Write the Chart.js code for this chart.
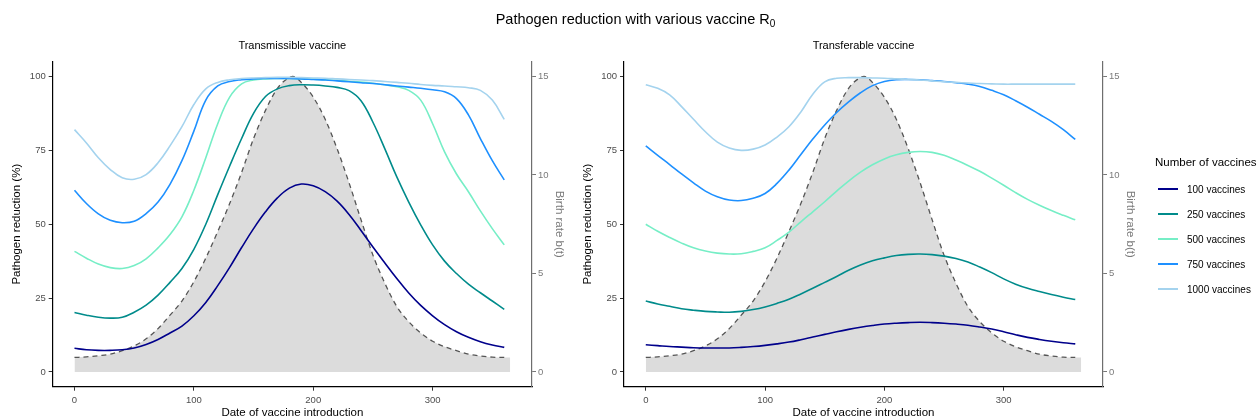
<!DOCTYPE html>
<html>
<head>
<meta charset="utf-8">
<script src="https://cdn.jsdelivr.net/npm/chart.js@4/dist/chart.umd.min.js"></script>
<style>
  body { margin: 0; background: #fff; font-family: "Liberation Sans", Arial, sans-serif; }
  #wrap { position: relative; width: 1260px; height: 420px; overflow: hidden; }
  canvas { position: absolute; top: 0; }
  .lbl { position: absolute; transform: translate(-50%, -50%); white-space: nowrap; color: #000; }
  #legend { position: absolute; left: 1155px; top: 156px; font-size: 11.5px; }
  .item { position: absolute; left: 3px; font-size: 10px; white-space: nowrap; }
  .key { position: absolute; left: 0; top: -1px; width: 20px; height: 2px; }
  .item span { position: absolute; left: 29px; transform: translateY(-50%); }
</style>
</head>
<body>
<div id="wrap">
  <canvas id="left" width="600" height="420" style="left:0px"></canvas>
  <canvas id="right" width="601" height="420" style="left:570px"></canvas>
  <div class="lbl" style="left:635.5px; top:20px; font-size:14.5px">Pathogen reduction with various vaccine R<sub style="font-size:10px">0</sub></div>
  <div class="lbl" style="left:292.3px; top:45px; font-size:11px">Transmissible vaccine</div>
  <div class="lbl" style="left:863.5px; top:45px; font-size:11px">Transferable vaccine</div>
  <div id="legend"></div>
</div>
<script>
// days of vaccine introduction
const days = [0, 10, 20, 30, 40, 50, 60, 70, 80, 90, 100, 110, 120, 130, 140, 150, 160, 170, 180,
  190, 200, 210, 220, 230, 240, 250, 260, 270, 280, 290, 300, 310, 320, 330, 340, 350, 360];

// birth rate b(t), shaded in the background
const birthDays = [0, 10, 20, 30, 40, 50, 60, 70, 80, 90, 100, 110, 120, 130, 140, 150, 160, 170, 180, 183,
  190, 200, 210, 220, 230, 240, 250, 260, 270, 280, 290, 300, 310, 320, 330, 340, 350, 360, 365];
const birthRate = [0.735, 0.765, 0.825, 0.9, 1.08, 1.32, 1.68, 2.2, 2.88, 3.6, 4.58, 5.78, 7.13, 8.55, 10.13,
  11.85, 13.28, 14.4, 14.95, 15.0, 14.7, 13.95, 12.83, 11.33, 9.6, 7.73, 5.93, 4.5, 3.32, 2.55, 1.98, 1.56,
  1.28, 1.08, 0.9, 0.81, 0.75, 0.735, 0.735];

const vaccineCounts = [100, 250, 500, 750, 1000];
const vaccineColors = ['#00008B', '#008B8B', '#76EEC6', '#1E90FF', '#A4D3EE'];

// Transmissible vaccine, pathogen reduction (%)
const tx100 = [8.0, 7.5, 7.3, 7.3, 7.5, 8.1, 9.3, 11, 13.2, 15.5, 19, 23.5, 29.2, 35.4, 42.1, 48.5, 54.2, 58.9, 62.2,
  63.6, 63, 61, 57.8, 53.3, 47.9, 42.3, 36.9, 31.6, 26.7, 22.5, 19, 16, 13.6, 11.7, 10.2, 9.1, 8.3];
const tx250 = [20.1, 19.2, 18.5, 18.2, 18.5, 20.2, 22.6, 26, 30.3, 35, 41.5, 50, 60, 69.7, 79, 87.5, 93.2, 95.8,
  96.9, 97.2, 97.1, 96.8, 96.3, 95.2, 91.8, 84.5, 75.5, 66, 57.5, 49.8, 43, 37.5, 33.3, 29.7, 26.8, 24, 21.2];
const tx500 = [40.8, 38.5, 36.5, 35.3, 35, 36, 38.3, 42, 46.5, 52.5, 61.5, 72.5, 84, 93, 97.5, 98.8, 99.2, 99.3,
  99.3, 99.2, 99.1, 98.9, 98.7, 98.4, 98.1, 97.7, 97.2, 96.5, 95.3, 92, 84, 74.5, 67, 61, 54.5, 48.5, 43];
const tx750 = [61.5, 57, 53.5, 51.3, 50.5, 51, 53.6, 57.5, 63.5, 71.5, 81.5, 92, 96.8, 98.3, 98.9, 99.2, 99.3,
  99.3, 99.3, 99.2, 99.0, 98.8, 98.5, 98.2, 97.9, 97.6, 97.2, 96.8, 96.4, 96, 95.5, 94.8, 92.5, 87, 79, 71.5, 65];
const tx1000 = [82, 77.5, 72.5, 68.5, 65.7, 65.2, 66.8, 70.8, 76.5, 83, 90.5, 95.8, 98, 98.9, 99.3, 99.5, 99.6,
  99.7, 99.7, 99.6, 99.5, 99.4, 99.2, 99.0, 98.8, 98.6, 98.3, 98.0, 97.7, 97.3, 97.0, 96.8, 96.5, 96.2, 95.3, 92, 85.5];

// Transferable vaccine, pathogen reduction (%)
const tf100 = [9.2, 8.9, 8.6, 8.4, 8.2, 8.1, 8.1, 8.1, 8.3, 8.6, 9.0, 9.5, 10.1, 10.9, 11.8, 12.7, 13.6, 14.4,
  15.1, 15.7, 16.2, 16.5, 16.7, 16.8, 16.7, 16.5, 16.2, 15.8, 15.2, 14.5, 13.6, 12.6, 11.7, 11, 10.4, 9.9, 9.5];
const tf250 = [24, 23, 22.2, 21.4, 20.9, 20.5, 20.3, 20.2, 20.5, 21.1, 22, 23.2, 24.6, 26.4, 28.3, 30.3, 32.3,
  34.4, 36.2, 37.6, 38.6, 39.4, 39.8, 39.9, 39.7, 39.2, 38.4, 37.2, 35.5, 33.6, 31.5, 29.7, 28.3, 27.2, 26.2, 25.3, 24.5];
const tf500 = [50, 47.6, 45.5, 43.6, 42, 40.9, 40.2, 39.9, 40, 40.8, 42, 44.5, 47.3, 50.8, 54.2, 57.6, 61.2, 64.6,
  67.6, 70.1, 72.1, 73.5, 74.3, 74.6, 74.3, 73.3, 71.7, 69.9, 67.9, 65.6, 63.2, 60.7, 58.4, 56.4, 54.6, 53, 51.5];
const tf750 = [76.5, 73.3, 70.2, 67, 64, 61.2, 59.3, 58.2, 58, 58.8, 60.4, 63.8, 68.3, 73.6, 78.8, 83.6, 87.8, 91.4,
  94.5, 96.9, 98.3, 98.9, 99, 98.9, 98.6, 98.3, 97.9, 97.4, 96.6, 95.3, 93.8, 91.8, 89.6, 87.2, 84.8, 82, 78.7];
const tf1000 = [97.2, 96, 93.8, 89.8, 85.5, 81.3, 77.8, 75.8, 75, 75.4, 76.8, 79.5, 83, 88, 94, 98.2, 99.4, 99.6,
  99.6, 99.5, 99.4, 99.2, 99, 98.8, 98.5, 98.2, 98, 97.8, 97.6, 97.5, 97.4, 97.4, 97.4, 97.4, 97.4, 97.4, 97.4];

const xTicks = [0, 100, 200, 300];
const yTicks = [0, 25, 50, 75, 100];
const birthTicks = [0, 5, 10, 15];

const FONT = '"Liberation Sans", Arial, sans-serif';

function points(xs, ys) {
  return xs.map((x, i) => ({ x: x, y: ys[i] }));
}

function fixTicks(values) {
  return scale => { scale.ticks = values.map(v => ({ value: v })); };
}

function makePanel(canvasId, series, sizes) {
  const ctx = document.getElementById(canvasId).getContext('2d');
  const datasets = series.map((ys, i) => ({
    label: vaccineCounts[i] + ' vaccines',
    data: points(days, ys),
    borderColor: vaccineColors[i],
    borderWidth: 1.6,
    pointRadius: 0,
    tension: 0.4,
    fill: false,
    yAxisID: 'y'
  })).reverse();

  // dashed birth-rate curve (stops at day 360)
  datasets.push({
    label: 'birth rate',
    data: points(birthDays.slice(0, -1), birthRate.slice(0, -1)),
    borderColor: '#555555',
    borderWidth: 1.3,
    borderDash: [5, 4],
    pointRadius: 0,
    cubicInterpolationMode: 'monotone',
    fill: false,
    yAxisID: 'y1'
  });
  // grey shading under it
  datasets.push({
    label: 'shade',
    data: points(birthDays, birthRate),
    borderWidth: 0,
    borderColor: 'rgba(0,0,0,0)',
    backgroundColor: '#DCDCDC',
    pointRadius: 0,
    cubicInterpolationMode: 'monotone',
    fill: 'origin',
    yAxisID: 'y1'
  });

  return new Chart(ctx, {
    type: 'line',
    data: { datasets: datasets },
    options: {
      responsive: false,
      animation: false,
      events: [],
      layout: { padding: { top: 61.7, bottom: 0, left: 0, right: 0 } },
      plugins: { legend: { display: false }, tooltip: { enabled: false } },
      scales: {
        x: {
          type: 'linear',
          min: -18.25,
          max: 383.25,
          afterBuildTicks: fixTicks(xTicks),
          afterFit: s => { s.height = 33.3; },
          grid: { drawOnChartArea: false, drawTicks: true, tickLength: 4, color: '#333', lineWidth: 1 },
          border: { display: true, color: '#000', width: 1.2 },
          ticks: { color: '#4d4d4d', padding: 3.5, font: { family: FONT, size: 9.5 } },
          title: {
            display: true, text: 'Date of vaccine introduction', color: '#000',
            font: { family: FONT, size: 11.5 }, padding: { top: 0, bottom: 0 }
          }
        },
        y: {
          position: 'left',
          min: -5,
          max: 105,
          afterBuildTicks: fixTicks(yTicks),
          afterFit: s => { s.width = sizes.left; },
          grid: { drawOnChartArea: false, drawTicks: true, tickLength: 4, color: '#333', lineWidth: 1 },
          border: { display: true, color: '#000', width: 1.2 },
          ticks: { color: '#4d4d4d', padding: 3, font: { family: FONT, size: 9.5 } },
          title: {
            display: true, text: 'Pathogen reduction (%)', color: '#000',
            font: { family: FONT, size: 11.5 }, padding: { top: sizes.leftTitle, bottom: 0 }
          }
        },
        y1: {
          position: 'right',
          min: -0.75,
          max: 15.75,
          afterBuildTicks: fixTicks(birthTicks),
          afterFit: s => { s.width = sizes.right; },
          grid: { drawOnChartArea: false, drawTicks: true, tickLength: 4, color: '#777', lineWidth: 1 },
          border: { display: true, color: '#6e6e6e', width: 1.2 },
          ticks: { color: '#7a7a7a', padding: 2, font: { family: FONT, size: 9.5 } },
          title: {
            display: true, text: 'Birth rate b(t)', color: '#7a7a7a',
            font: { family: FONT, size: 11.5 }, padding: { top: sizes.rightTitle, bottom: 0 }
          }
        }
      }
    }
  });
}

makePanel('left', [tx100, tx250, tx500, tx750, tx1000], { left: 52.7, right: 68, leftTitle: 10.4, rightTitle: 33.6 });
makePanel('right', [tf100, tf250, tf500, tf750, tf1000], { left: 54, right: 68, leftTitle: 11.4, rightTitle: 33.6 });

// legend
const legend = document.getElementById('legend');
legend.innerHTML = '<div style="position:absolute; top:0; white-space:nowrap">Number of vaccines</div>';
vaccineCounts.forEach((n, i) => {
  const item = document.createElement('div');
  item.className = 'item';
  item.style.top = (33 + 25 * i) + 'px';
  item.innerHTML = '<div class="key" style="background:' + vaccineColors[i] + '"></div>' +
    '<span>' + n + ' vaccines</span>';
  legend.appendChild(item);
});
</script>
</body>
</html>
